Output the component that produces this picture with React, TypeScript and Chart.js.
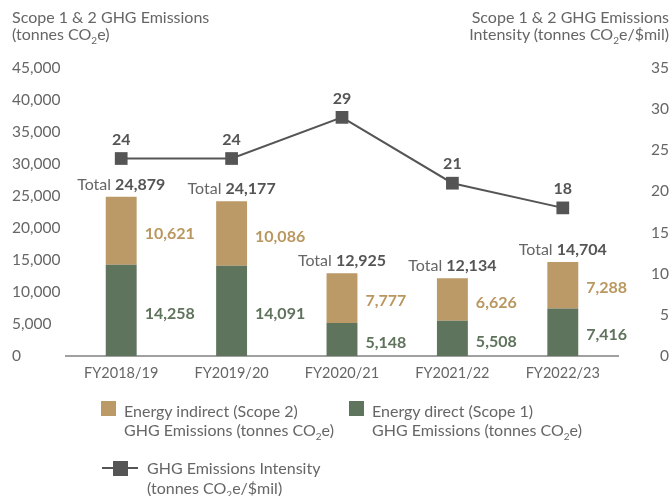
import React, { useEffect, useRef } from "react";
import { Chart, registerables } from "chart.js";

Chart.register(...registerables);

const categories = ["FY2018/19", "FY2019/20", "FY2020/21", "FY2021/22", "FY2022/23"];
const scope1 = [14258, 14091, 5148, 5508, 7416];
const scope2 = [10621, 10086, 7777, 6626, 7288];
const totals = [24879, 24177, 12925, 12134, 14704];
const intensity = [24, 24, 29, 21, 18];

const TAN = "#BB9A67";
const TAN_TEXT = "#B9975F";
const GREEN = "#5F745D";
const GREEN_TEXT = "#5F735C";
const DARK = "#555555";
const GREY = "#666666";
const FONT = "Lato, 'Open Sans', sans-serif";

const fmt = (v: number) => v.toLocaleString("en-US");

const labelPlugin = {
  id: "valueLabels",
  afterDatasetsDraw(chart: any) {
    const ctx = chart.ctx as CanvasRenderingContext2D;
    ctx.save();
    ctx.textBaseline = "middle";
    const m1 = chart.getDatasetMeta(0);
    const m2 = chart.getDatasetMeta(1);
    const m3 = chart.getDatasetMeta(2);
    m1.data.forEach((el: any, i: number) => {
      const p = el.getProps(["x", "y", "base", "width"], true);
      ctx.font = `bold 16px ${FONT}`;
      ctx.fillStyle = GREEN_TEXT;
      ctx.textAlign = "left";
      ctx.fillText(fmt(scope1[i]), p.x + p.width / 2 + 8, (p.y + p.base) / 2 + 3);
    });
    m2.data.forEach((el: any, i: number) => {
      const p = el.getProps(["x", "y", "base", "width"], true);
      ctx.font = `bold 16px ${FONT}`;
      ctx.fillStyle = TAN_TEXT;
      ctx.textAlign = "left";
      ctx.fillText(fmt(scope2[i]), p.x + p.width / 2 + 8, (p.y + p.base) / 2 + 3);
      const t1 = "Total ";
      const t2 = fmt(totals[i]);
      ctx.font = `16px ${FONT}`;
      const w1 = ctx.measureText(t1).width;
      ctx.font = `bold 16px ${FONT}`;
      const w2 = ctx.measureText(t2).width;
      const sx = p.x - (w1 + w2) / 2;
      const ty = p.y - 12;
      ctx.font = `16px ${FONT}`;
      ctx.fillStyle = GREY;
      ctx.fillText(t1, sx, ty);
      ctx.font = `bold 16px ${FONT}`;
      ctx.fillStyle = DARK;
      ctx.fillText(t2, sx + w1, ty);
    });
    m3.data.forEach((el: any, i: number) => {
      const p = el.getProps(["x", "y"], true);
      ctx.font = `bold 16px ${FONT}`;
      ctx.fillStyle = DARK;
      ctx.textAlign = "center";
      ctx.fillText(String(intensity[i]), p.x, p.y - 19);
    });
    ctx.restore();
  },
};

const Sub = ({ children }: { children: React.ReactNode }) => (
  <span style={{ fontSize: "10px", position: "relative", top: "4px", lineHeight: 0 }}>{children}</span>
);

export default function App() {
  const ref = useRef<HTMLCanvasElement | null>(null);
  useEffect(() => {
    if (!ref.current) return;
    const chart = new Chart(ref.current, {
      type: "bar",
      data: {
        labels: categories,
        datasets: [
          {
            type: "bar",
            label: "Energy direct (Scope 1)",
            data: scope1,
            backgroundColor: GREEN,
            yAxisID: "y",
            stack: "s",
            order: 1,
            categoryPercentage: 1,
            barPercentage: 0.28,
          },
          {
            type: "bar",
            label: "Energy indirect (Scope 2)",
            data: scope2,
            backgroundColor: TAN,
            yAxisID: "y",
            stack: "s",
            order: 1,
            categoryPercentage: 1,
            barPercentage: 0.28,
          },
          {
            type: "line",
            label: "GHG Emissions Intensity",
            data: intensity,
            yAxisID: "y1",
            borderColor: DARK,
            backgroundColor: DARK,
            borderWidth: 2,
            pointStyle: "rect",
            pointRadius: 9,
            pointBorderWidth: 0,
            pointBackgroundColor: DARK,
            order: 0,
          } as any,
        ],
      },
      options: {
        responsive: false,
        animation: false,
        devicePixelRatio: 1,
        layout: { padding: { top: 68, left: 12, right: 3, bottom: 0 } },
        plugins: { legend: { display: false }, tooltip: { enabled: false } },
        scales: {
          x: {
            stacked: true,
            grid: { display: false, drawTicks: false },
            border: { display: true, color: "#A0A0A0", width: 2 },
            ticks: { color: GREY, font: { family: FONT, size: 14.5 }, padding: 9 },
            afterFit: (s: any) => {
              s.height = 140;
            },
          },
          y: {
            position: "left",
            stacked: true,
            min: 0,
            max: 45000,
            grid: { display: false, drawTicks: false },
            border: { display: false },
            ticks: {
              stepSize: 5000,
              color: GREY,
              font: { family: FONT, size: 15.5 },
              crossAlign: "far",
              callback: (v: any) => fmt(Number(v)),
            },
            afterFit: (s: any) => {
              s.width = 54;
            },
          },
          y1: {
            position: "right",
            min: 0,
            max: 35,
            grid: { display: false, drawTicks: false },
            border: { display: false },
            ticks: {
              stepSize: 5,
              color: GREY,
              font: { family: FONT, size: 15.5 },
              crossAlign: "far",
            },
            afterFit: (s: any) => {
              s.width = 51;
            },
          },
        },
      },
      plugins: [labelPlugin],
    });
    return () => chart.destroy();
  }, []);

  const textStyle: React.CSSProperties = {
    position: "absolute",
    fontFamily: FONT,
    fontSize: "16px",
    color: GREY,
    whiteSpace: "nowrap",
  };

  return (
    <div style={{ position: "fixed", left: 0, top: 0, width: 672, height: 496, background: "#fff" }}>
      <canvas ref={ref} width={672} height={496} style={{ position: "absolute", left: 0, top: 0, width: 672, height: 496 }} />
      <div style={{ ...textStyle, left: 12, top: 8, lineHeight: "17px" }}>
        Scope 1 &amp; 2 GHG Emissions
        <br />
        (tonnes CO<Sub>2</Sub>e)
      </div>
      <div style={{ ...textStyle, right: 3, top: 8, lineHeight: "17px", textAlign: "right" }}>
        Scope 1 &amp; 2 GHG Emissions
        <br />
        Intensity (tonnes CO<Sub>2</Sub>e/$mil)
      </div>
      <div style={{ position: "absolute", left: 101, top: 401, width: 15, height: 15, background: TAN }} />
      <div style={{ ...textStyle, left: 124, top: 401, lineHeight: "19px" }}>
        Energy indirect (Scope 2)
        <br />
        GHG Emissions (tonnes CO<Sub>2</Sub>e)
      </div>
      <div style={{ position: "absolute", left: 349, top: 401, width: 15, height: 15, background: GREEN }} />
      <div style={{ ...textStyle, left: 372, top: 401, lineHeight: "19px" }}>
        Energy direct (Scope 1)
        <br />
        GHG Emissions (tonnes CO<Sub>2</Sub>e)
      </div>
      <div style={{ position: "absolute", left: 102, top: 467, width: 36, height: 2, background: DARK }} />
      <div style={{ position: "absolute", left: 113, top: 461, width: 15, height: 15, background: DARK }} />
      <div style={{ ...textStyle, left: 147, top: 458, lineHeight: "20px" }}>
        GHG Emissions Intensity
        <br />
        (tonnes CO<Sub>2</Sub>e/$mil)
      </div>
    </div>
  );
}
